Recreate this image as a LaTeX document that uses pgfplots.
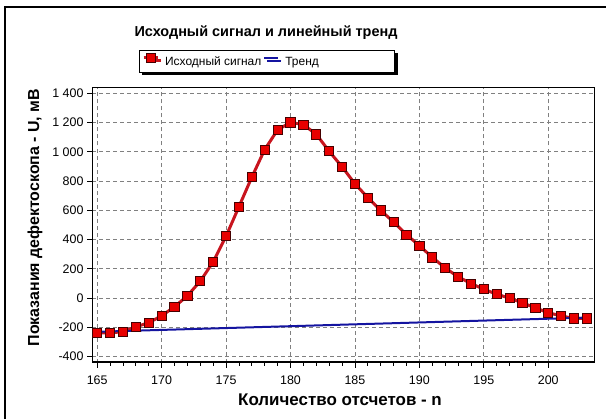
\documentclass[border=0pt]{standalone}
\usepackage{fontspec}
\setmainfont{Liberation Sans}
\usepackage{pgfplots}
\pgfplotsset{compat=1.18}
\usetikzlibrary{shadows}
\definecolor{sigline}{RGB}{200,20,30}
\definecolor{sigfill}{RGB}{232,0,0}
\definecolor{sigdraw}{RGB}{70,0,0}
\definecolor{trendc}{RGB}{20,20,160}
\definecolor{gridc}{RGB}{128,128,128}
\pgfplotstableread{
n U
165 -237
166 -237
167 -230
168 -196
169 -168
170 -121
171 -59
172 16
173 116
174 248
175 423
176 625
177 827
178 1016
179 1150
180 1202
181 1186
182 1120
183 1004
184 898
185 782
186 687
187 600
188 520
189 434
190 359
191 279
192 207
193 146
194 100
195 61
196 27
197 0
198 -32
199 -66
200 -100
201 -121
202 -139
203 -139
}\signal
\pgfplotstableread{
n U
165 -230
203 -133
}\trend
\begin{document}
\begin{tikzpicture}[x=1bp,y=1bp]
\useasboundingbox (0,0) rectangle (606,419);
\draw[line width=1.5bp] (5,0) -- (5,412) -- (606,412);
\node[font=\bfseries\fontsize{14.5}{16}\selectfont] at (266,386) {Исходный сигнал и линейный тренд};
\begin{axis}[
  at={(92bp,56.5bp)}, anchor=south west,
  width=502bp, height=275bp, scale only axis,
  xmin=164.6, xmax=203.55, ymin=-440, ymax=1440,
  xtick={165,170,...,200}, ytick={-400,-200,...,1400},
  minor x tick num=4,
  tick align=outside, xtick pos=left, ytick pos=left,
  major tick length=5bp, minor tick length=3bp,
  tick style={black, line width=0.8bp},
  grid=major,
  major grid style={gridc, dash pattern=on 4bp off 3bp, line width=0.8bp},
  axis line style={black, line width=0.8bp},
  /pgf/number format/assume math mode=true,
  /pgf/number format/1000 sep={\ },
  tick label style={font=\fontsize{12.5}{14}\selectfont},
  xticklabel style={yshift=-5bp},
  xlabel={Количество отсчетов - n},
  ylabel={Показания дефектоскопа - U, мВ},
  ylabel style={font=\bfseries\fontsize{16}{18}\selectfont, at={(axis description cs:-0.1135,0.527)}, anchor=center},
  xlabel style={font=\bfseries\fontsize{17}{19}\selectfont, at={(axis description cs:0.494,0)}, anchor=center, yshift=-37.5bp},
  legend style={at={(axis description cs:0.3486,1.0956)}, anchor=center,
    draw=black, line width=0.8bp, fill=white,
    font=\fontsize{12}{14}\selectfont,
    drop shadow={shadow xshift=3bp, shadow yshift=-3bp, opacity=1, fill=black},
    inner xsep=3bp, inner ysep=3bp,
    /tikz/every odd column/.append style={column sep=4bp}},
  legend columns=2,
  legend image code/.code={\draw[mark repeat=2,mark phase=2,#1] plot coordinates {(0bp,4bp) (7bp,4bp) (14bp,4bp)};},
]
\addplot[color=sigline, line width=3bp, mark=square*, mark size=4.6bp,
  mark options={fill=sigfill, draw=sigdraw, line width=0.8bp, solid}] table[x=n,y=U] {\signal};
\addplot[color=trendc, line width=2bp, no marks] table[x=n,y=U] {\trend};
\legend{Исходный сигнал, Тренд\hspace*{71bp}\null}
\draw[line width=2.5bp, black] (rel axis cs:0,1) -- (rel axis cs:0,0) -- (rel axis cs:1,0);
\end{axis}
\end{tikzpicture}
\end{document}
